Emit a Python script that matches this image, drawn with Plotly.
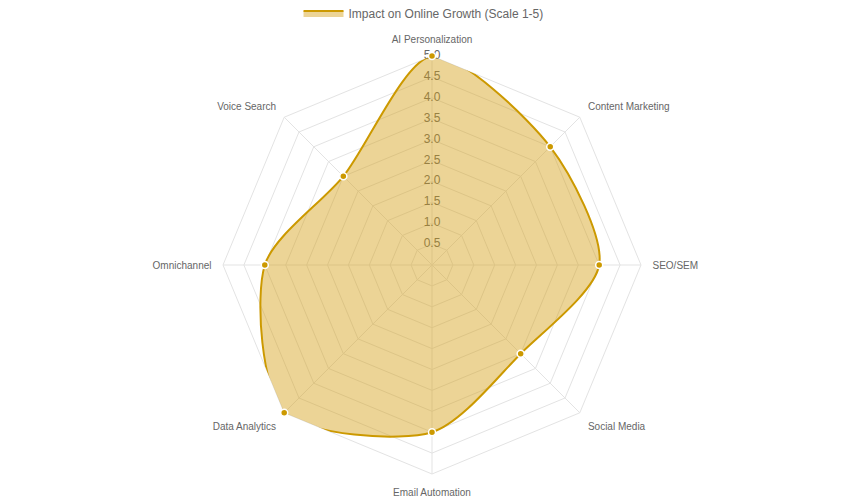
import plotly.graph_objects as go

categories = ['AI Personalization', 'Content Marketing', 'SEO/SEM', 'Social Media',
              'Email Automation', 'Data Analytics', 'Omnichannel', 'Voice Search']
impact = [5.0, 4.0, 4.0, 3.0, 4.0, 5.0, 4.0, 3.0]
tick_vals = [0.5, 1.0, 1.5, 2.0, 2.5, 3.0, 3.5, 4.0, 4.5, 5.0]
tick_text = ['%.1f' % v for v in tick_vals]

gold = 'rgb(204,153,0)'
fill = 'rgba(212,160,23,0.45)'
grid = '#e3e3e3'
font_family = 'Liberation Sans, Arial, sans-serif'

# tick labels drawn first so the filled area sits on top of them (like chart.js)
ticks = go.Scatterpolar(
    r=tick_vals,
    theta=[categories[0]] * len(tick_vals),
    mode='text',
    text=tick_text,
    textposition='middle center',
    textfont=dict(size=12, color='#666666', family=font_family),
    showlegend=False,
    hoverinfo='skip'
)

area = go.Scatterpolar(
    r=impact + impact[:1],
    theta=categories + categories[:1],
    name='Impact on Online Growth (Scale 1-5)',
    mode='lines',
    fill='toself',
    fillcolor=fill,
    line=dict(color=gold, width=2, shape='spline', smoothing=0.8)
)

points = go.Scatterpolar(
    r=impact,
    theta=categories,
    mode='markers',
    marker=dict(size=7, color=gold, line=dict(color='white', width=1.5)),
    showlegend=False
)

# page body has an 8px margin, so the margins below are shifted to compensate
layout = go.Layout(
    width=864,
    height=500,
    margin=dict(l=0, r=16, t=48, b=34),
    paper_bgcolor='white',
    font=dict(family=font_family, color='#666666'),
    polar=dict(
        gridshape='linear',
        bgcolor='white',
        radialaxis=dict(
            range=[0, 5],
            dtick=0.5,
            showticklabels=False,
            ticks='',
            showline=False,
            gridcolor=grid,
            layer='below traces'
        ),
        angularaxis=dict(
            direction='clockwise',
            rotation=90,
            categoryorder='array',
            categoryarray=categories,
            gridcolor=grid,
            linecolor=grid,
            showline=True,
            ticks='outside',
            ticklen=9,
            tickcolor='rgba(0,0,0,0)',
            tickfont=dict(size=10, color='#666666'),
            layer='below traces'
        )
    ),
    legend=dict(
        orientation='h',
        x=0.49, xanchor='center',
        yref='container',
        y=0.99, yanchor='middle',
        itemwidth=40,
        font=dict(size=12, color='#666666')
    )
)

fig = go.Figure(data=[ticks, area, points], layout=layout)
fig.write_html('out.html')
